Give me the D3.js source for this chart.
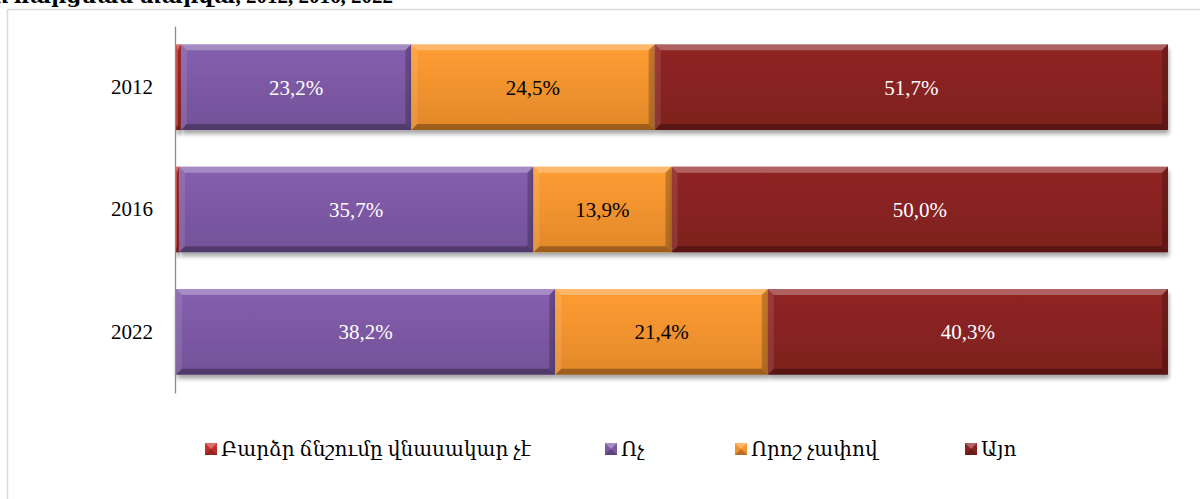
<!DOCTYPE html>
<html>
<head>
<meta charset="utf-8">
<script src="https://cdn.jsdelivr.net/npm/d3@7"></script>
<style>
  html, body { margin: 0; padding: 0; background: #fff; }
  svg { display: block; }
  text { font-family: "Liberation Serif", "DejaVu Serif", serif; }
</style>
</head>
<body>
<svg id="chart" width="1200" height="499"></svg>
<script>
// Survey years and answer shares (%)
const years = ["2012", "2016", "2022"];
const seriesNames = ["Բարձր ճնշումը վնասակար չէ", "Ոչ", "Որոշ չափով", "Այո"];
const notHarmful = [0.6, 0.4, 0.1];
const no = [23.2, 35.7, 38.2];
const somewhat = [24.5, 13.9, 21.4];
const yes = [51.7, 50.0, 40.3];
const seriesValues = [notHarmful, no, somewhat, yes];
const colors = ["#c42f2a", "#7e5aa6", "#f7952f", "#892321"];
const labelColors = [null, "#ffffff", "#000000", "#ffffff"];
const titleText = "Գծապատկեր. Բարձր ճնշման վնասակարության ընկալումը, ըստ հարցման տարվա, 2012, 2016, 2022";

const svg = d3.select("#chart");
const defs = svg.append("defs");

// soft shadow under the bars
const sh = defs.append("filter").attr("id", "shadow")
  .attr("x", "-5%").attr("y", "-20%").attr("width", "110%").attr("height", "150%");
sh.append("feGaussianBlur").attr("in", "SourceAlpha").attr("stdDeviation", 2.2).attr("result", "b");
sh.append("feOffset").attr("in", "b").attr("dx", 1).attr("dy", 4).attr("result", "o");
sh.append("feComponentTransfer").attr("in", "o").attr("result", "s")
  .append("feFuncA").attr("type", "linear").attr("slope", 0.35);
const m = sh.append("feMerge");
m.append("feMergeNode").attr("in", "s");
m.append("feMergeNode").attr("in", "SourceGraphic");

// per-series vertical body gradient
colors.forEach((c, i) => {
  const g = defs.append("linearGradient").attr("id", "grad" + i)
    .attr("x1", 0).attr("y1", 0).attr("x2", 0).attr("y2", 1);
  const base = d3.color(c);
  g.append("stop").attr("offset", "0%").attr("stop-color", base.brighter(0.15));
  g.append("stop").attr("offset", "100%").attr("stop-color", base.darker(0.25));
});

// chart frame
svg.append("rect")
  .attr("x", 7.5).attr("y", 9.5).attr("width", 1250).attr("height", 600)
  .attr("fill", "none").attr("stroke", "#d9d9d9").attr("stroke-width", 1.5);

// title (runs off the top edge)
svg.append("text")
  .attr("x", 393).attr("y", 3)
  .attr("text-anchor", "end")
  .attr("font-weight", "bold")
  .attr("font-size", 21)
  .attr("fill", "#000")
  .text(titleText);

const x = d3.scaleLinear().domain([0, 100]).range([175, 1168]);
const y = d3.scaleBand().domain(years).range([26, 393]).paddingInner(0.3).paddingOuter(0.15);

// stack the series
const rows = years.map((yr, j) => {
  const r = { year: yr };
  seriesNames.forEach((s, i) => r[i] = seriesValues[i][j]);
  return r;
});
const stack = d3.stack().keys(d3.range(seriesNames.length))(rows);

const b = 6; // bevel size
const plot = svg.append("g");

stack.forEach((layer, i) => {
  const g = plot.append("g");
  layer.forEach((d, j) => {
    const x0 = x(d[0]), x1 = x(d[1]);
    const y0 = y(years[j]), y1 = y0 + y.bandwidth();
    const seg = g.append("g").attr("filter", "url(#shadow)");
    seg.append("rect")
      .attr("x", x0).attr("y", y0).attr("width", x1 - x0).attr("height", y1 - y0)
      .attr("fill", `url(#grad${i})`);
    const bw = Math.min(b, (x1 - x0) / 2);
    const pts = a => a.map(p => p.join(",")).join(" ");
    // top bevel
    seg.append("polygon")
      .attr("points", pts([[x0, y0], [x1, y0], [x1 - bw, y0 + b], [x0 + bw, y0 + b]]))
      .attr("fill", "#fff").attr("fill-opacity", 0.28);
    // left bevel
    seg.append("polygon")
      .attr("points", pts([[x0, y0], [x0 + bw, y0 + b], [x0 + bw, y1 - b], [x0, y1]]))
      .attr("fill", "#fff").attr("fill-opacity", 0.1);
    // right bevel
    seg.append("polygon")
      .attr("points", pts([[x1, y0], [x1, y1], [x1 - bw, y1 - b], [x1 - bw, y0 + b]]))
      .attr("fill", "#000").attr("fill-opacity", 0.22);
    // bottom bevel
    seg.append("polygon")
      .attr("points", pts([[x0, y1], [x0 + bw, y1 - b], [x1 - bw, y1 - b], [x1, y1]]))
      .attr("fill", "#000").attr("fill-opacity", 0.3);

    if (labelColors[i]) {
      g.append("text")
        .attr("x", (x0 + x1) / 2)
        .attr("y", (y0 + y1) / 2)
        .attr("dy", "0.35em")
        .attr("text-anchor", "middle")
        .attr("font-size", 21)
        .attr("fill", labelColors[i])
        .text(d3.format(".1f")(d[1] - d[0]).replace(".", ",") + "%");
    }
  });
});

// category axis
const yAxis = svg.append("g")
  .attr("transform", `translate(${x(0)},0)`)
  .call(d3.axisLeft(y).tickSize(0).tickPadding(22));
yAxis.select(".domain").attr("stroke", "#8c8c8c").attr("stroke-width", 1.3);
yAxis.selectAll("text")
  .attr("font-size", 21)
  .attr("fill", "#000")
  .attr("font-family", "'Liberation Serif', 'DejaVu Serif', serif");

// legend
const legendX = [205, 605, 735, 965];
const legend = svg.append("g");
seriesNames.forEach((name, i) => {
  const lg = legend.append("g").attr("transform", `translate(${legendX[i]},449)`);
  const s = 12;
  lg.append("rect").attr("x", 0).attr("y", -s / 2).attr("width", s).attr("height", s)
    .attr("fill", `url(#grad${i})`);
  lg.append("polygon")
    .attr("points", `0,${-s/2} ${s},${-s/2} ${s/2},0`)
    .attr("fill", "#fff").attr("fill-opacity", 0.3);
  lg.append("polygon")
    .attr("points", `0,${s/2} ${s},${s/2} ${s/2},0`)
    .attr("fill", "#000").attr("fill-opacity", 0.2);
  lg.append("text")
    .attr("x", s + 4).attr("y", 0).attr("dy", "0.35em")
    .attr("font-size", 20)
    .attr("fill", "#000")
    .text(name);
});
</script>
</body>
</html>
